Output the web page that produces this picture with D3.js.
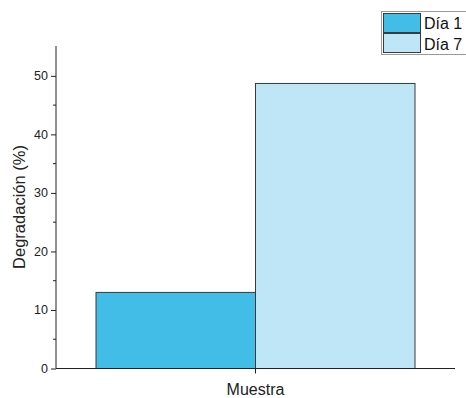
<!DOCTYPE html>
<html><head><meta charset="utf-8">
<script src="https://cdn.jsdelivr.net/npm/d3@7"></script>
<style>body{margin:0;background:#fff}svg{display:block;font-family:"Liberation Sans",Arial,sans-serif}</style>
</head><body>
<svg id="c" width="466" height="398"></svg>
<script>
const categories = ["Muestra"];
const seriesNames = ["Día 1", "Día 7"];
const seriesValues = [13, 48.7];
const seriesColors = ["#42bde7", "#bee6f6"];
const yTicks = [0, 10, 20, 30, 40, 50];
const yMinorTicks = [5, 15, 25, 35, 45];

const svg = d3.select("#c");
const x0 = 56, x1 = 455, yTop = 46, yBot = 368.5;
const y = d3.scaleLinear().domain([0, 55.1]).range([yBot, yTop]);
const xc = d3.scaleBand().domain(categories).range([96, 415]).padding(0);
const xs = d3.scaleBand().domain(seriesNames).range([0, xc.bandwidth()]).padding(0);

// bars
svg.append("g").selectAll("rect").data(seriesNames).join("rect")
  .attr("x", d => xc(categories[0]) + xs(d))
  .attr("width", xs.bandwidth())
  .attr("y", (d, i) => y(seriesValues[i]))
  .attr("height", (d, i) => yBot - y(seriesValues[i]))
  .attr("fill", (d, i) => seriesColors[i])
  .attr("stroke", "#3a3a3a").attr("stroke-width", 1);

// y axis
const ya = svg.append("g").attr("transform", `translate(${x0},0)`)
  .call(d3.axisLeft(y).tickValues(yTicks).tickSize(5).tickPadding(3));
ya.select(".domain").attr("d", `M0,${yTop}V${yBot}`).attr("stroke", "#222");
ya.selectAll(".tick line").attr("stroke", "#222");
ya.selectAll("text").attr("font-size", 12.5).attr("fill", "#222").style("font-family", "Liberation Sans, Arial, sans-serif");
svg.append("g").attr("transform", `translate(${x0},0)`).selectAll("line").data(yMinorTicks).join("line")
  .attr("x1", -3).attr("x2", 0).attr("y1", d => y(d)).attr("y2", d => y(d)).attr("stroke", "#222");

// x axis
const xa = svg.append("g").attr("transform", `translate(0,${yBot})`)
  .call(d3.axisBottom(xc).tickSize(5).tickFormat(""));
xa.select(".domain").attr("d", `M${x0},0H${x1}`).attr("stroke", "#222");
xa.selectAll(".tick line").attr("stroke", "#222");
svg.append("text").attr("x", xc(categories[0]) + xc.bandwidth() / 2).attr("y", 394.5)
  .attr("text-anchor", "middle").attr("font-size", 16).attr("fill", "#222").text(categories[0]);

// y label
svg.append("text").attr("transform", "translate(24.5,207) rotate(-90)")
  .attr("text-anchor", "middle").attr("font-size", 16.5).attr("fill", "#222").text("Degradación (%)");

// legend
const lg = svg.append("g");
lg.append("rect").attr("x", 381.5).attr("y", 11.5).attr("width", 90).attr("height", 43)
  .attr("fill", "#fff").attr("stroke", "#999");
seriesNames.forEach((n, i) => {
  lg.append("rect").attr("x", 383.5).attr("y", 13.5 + i * 20).attr("width", 37).attr("height", 19)
    .attr("fill", seriesColors[i]).attr("stroke", "#3a3a3a");
  lg.append("text").attr("x", 424).attr("y", 29 + i * 20.5).attr("font-size", 16).attr("fill", "#111").text(n);
});
</script>
</body></html>
